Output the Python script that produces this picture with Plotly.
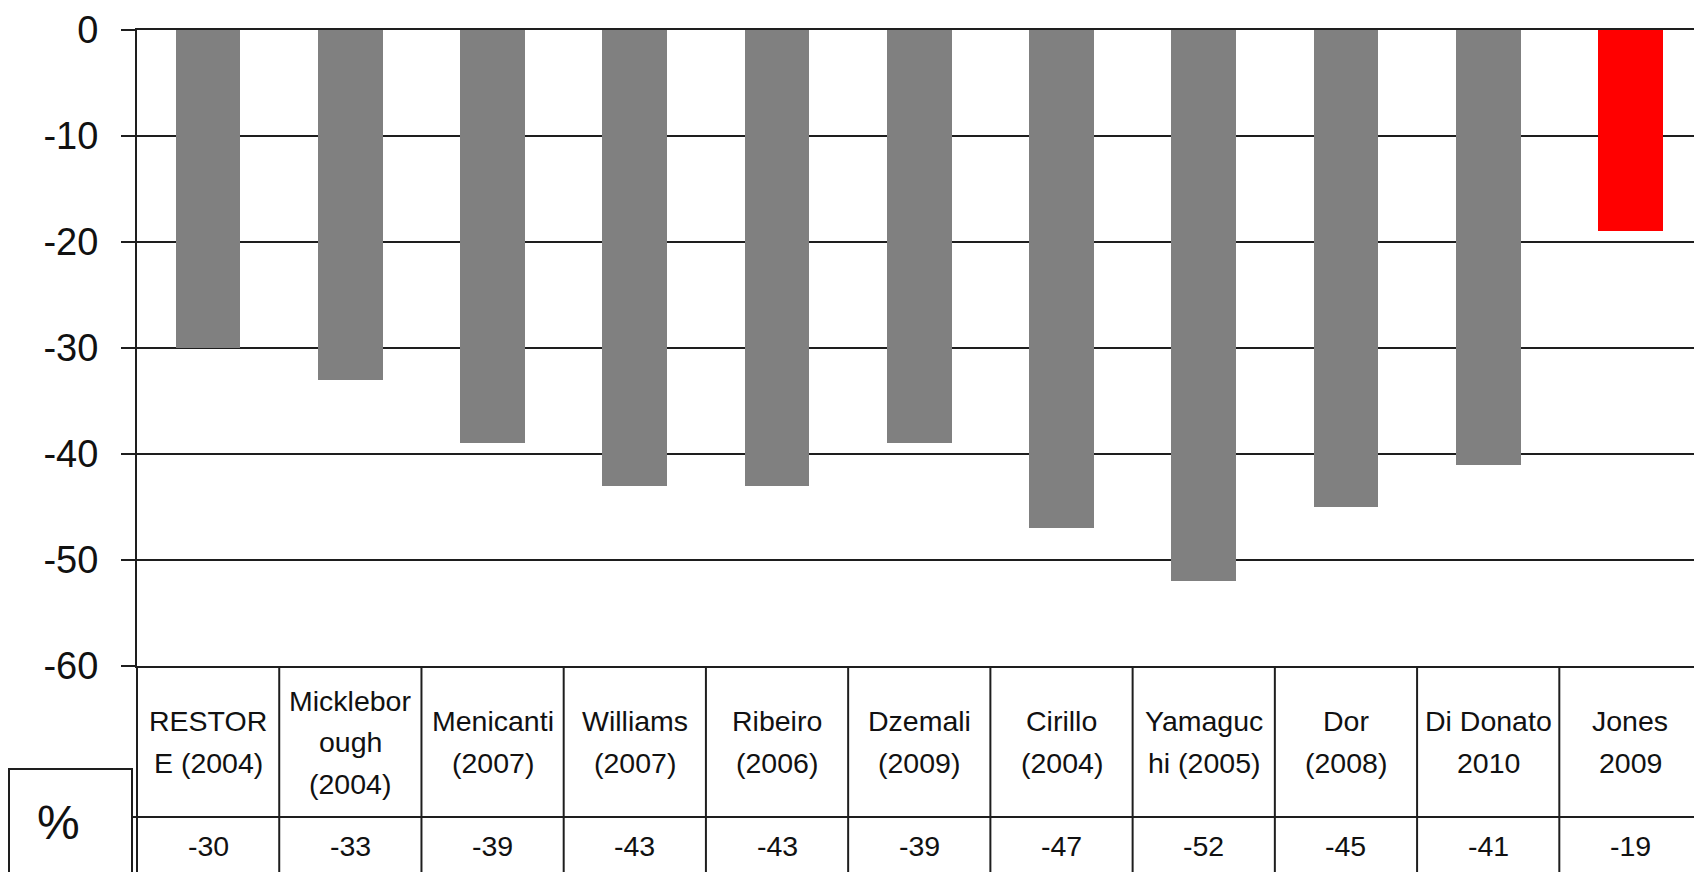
import plotly.graph_objects as go

# Study labels (line breaks as printed in the table header), change in %, bar colours
studies = [
    "RESTOR\nE (2004)",
    "Micklebor\nough\n(2004)",
    "Menicanti\n(2007)",
    "Williams\n(2007)",
    "Ribeiro\n(2006)",
    "Dzemali\n(2009)",
    "Cirillo\n(2004)",
    "Yamaguc\nhi (2005)",
    "Dor\n(2008)",
    "Di Donato\n2010",
    "Jones\n2009",
]
changes = [-30, -33, -39, -43, -43, -39, -47, -52, -45, -41, -19]
bar_colors = ["#808080"] * 10 + ["#FF0000"]

y_ticks = [0, -10, -20, -30, -40, -50, -60]
y_tick_text = ["0", "-10", "-20", "-30", "-40", "-50", "-60"]
row_label = "%"

# Page geometry (pixels)
W, H = 1694, 872
LEFT, TOP, BOTTOM = 137, 30, 666
LINE = "#1e1e1e"
FONT = "Liberation Sans, Arial, sans-serif"


def py(y):
    """pixel row -> paper y"""
    return (BOTTOM - y) / (BOTTOM - TOP)


def px(x):
    """pixel column -> paper x"""
    return (x - LEFT) / (W - LEFT)


x_idx = list(range(len(studies)))

fig = go.Figure(
    go.Bar(
        x=x_idx,
        y=changes,
        width=0.455,
        marker=dict(color=bar_colors, line=dict(width=0)),
        hoverinfo="skip",
    )
)

annotations = []
shapes = []

# Header cells: one annotation per printed line
header_mid, line_gap = 742, 41.5
cell_font = dict(family=FONT, size=28.5, color="#111")
for i, label in enumerate(studies):
    lines = label.split("\n")
    n = len(lines)
    for k, txt in enumerate(lines):
        ypx = header_mid + (k - (n - 1) / 2) * line_gap
        annotations.append(dict(
            x=i, xref="x", y=py(ypx), yref="paper",
            text=txt, showarrow=False, xanchor="center", yanchor="middle",
            font=cell_font,
        ))
    # value cell
    annotations.append(dict(
        x=i, xref="x", y=py(846), yref="paper",
        text=f"{changes[i]:d}", showarrow=False, xanchor="center", yanchor="middle",
        font=cell_font,
    ))

# Row label box
annotations.append(dict(
    x=px(58), xref="paper", y=py(822), yref="paper",
    text=row_label, showarrow=False, xanchor="center", yanchor="middle",
    font=dict(family=FONT, size=48, color="#111"),
))
shapes.append(dict(
    type="rect", xref="paper", yref="paper",
    x0=px(9), x1=px(132), y0=py(769), y1=py(890),
    line=dict(color=LINE, width=2), fillcolor="rgba(0,0,0,0)", layer="above",
))

# Table grid: column separators, left border, header/value separator
for i in range(len(studies) - 1):
    shapes.append(dict(
        type="line", xref="x", yref="paper",
        x0=i + 0.5, x1=i + 0.5, y0=py(BOTTOM), y1=py(890),
        line=dict(color=LINE, width=2), layer="above",
    ))
shapes.append(dict(
    type="line", xref="paper", yref="paper",
    x0=0, x1=0, y0=py(BOTTOM), y1=py(890),
    line=dict(color=LINE, width=2), layer="above",
))
shapes.append(dict(
    type="line", xref="paper", yref="paper",
    x0=px(132), x1=1.0, y0=py(817), y1=py(817),
    line=dict(color=LINE, width=2), layer="above",
))

fig.update_layout(
    width=W, height=H,
    margin=dict(l=LEFT, r=0, t=TOP, b=H - BOTTOM, pad=0),
    paper_bgcolor="white", plot_bgcolor="white",
    showlegend=False,
    bargap=0,
    annotations=annotations,
    shapes=shapes,
    xaxis=dict(
        range=[-0.5, 10.447],
        showticklabels=False, ticks="", showgrid=False, zeroline=False,
        showline=True, mirror=True, linecolor=LINE, linewidth=2,
        fixedrange=True,
    ),
    yaxis=dict(
        range=[-60, 0],
        tickvals=y_ticks, ticktext=y_tick_text,
        ticks="outside", ticklen=14, tickwidth=2, tickcolor=LINE,
        ticklabelstandoff=15,
        tickfont=dict(family=FONT, size=38, color="#111"),
        showgrid=True, gridcolor=LINE, gridwidth=2,
        zeroline=False,
        showline=True, linecolor=LINE, linewidth=2,
        fixedrange=True,
    ),
)

fig.write_html("out.html", config={"displayModeBar": False})
